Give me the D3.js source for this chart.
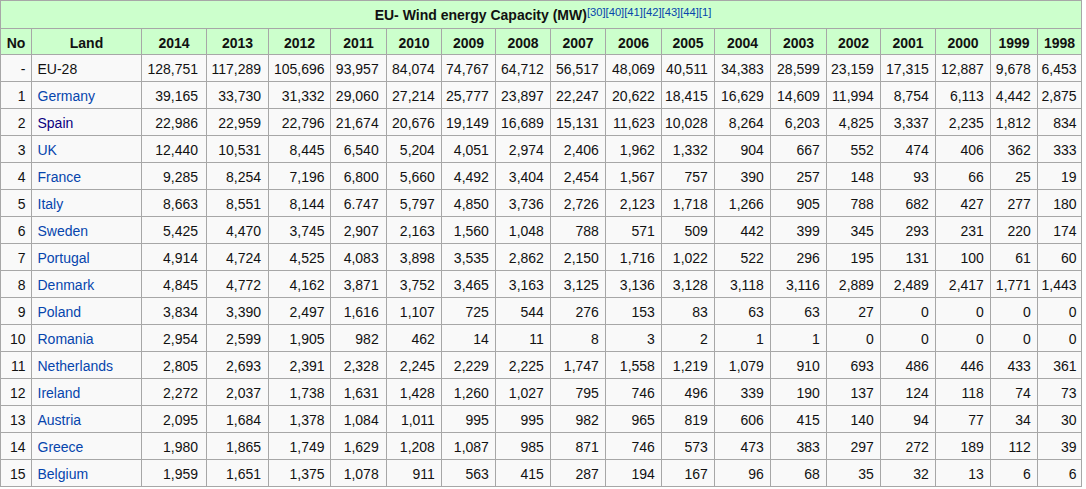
<!DOCTYPE html>
<html>
<head>
<meta charset="utf-8">
<script src="https://cdn.jsdelivr.net/npm/d3@7"></script>
<style>
  html, body { margin: 0; padding: 0; background: #ffffff; }
  svg { display: block; }
  text { font-family: "Liberation Sans", Arial, Helvetica, sans-serif; }
</style>
</head>
<body>
<svg id="chart" width="1086" height="489"></svg>
<script>
// ---------------- DATA ----------------
const title = "EU- Wind energy Capacity (MW)";
const references = "[30][40][41][42][43][44][1]";
const years = ["2014","2013","2012","2011","2010","2009","2008","2007","2006","2005","2004","2003","2002","2001","2000","1999","1998"];
const ranks = ["-","1","2","3","4","5","6","7","8","9","10","11","12","13","14","15"];
const lands = ["EU-28","Germany","Spain","UK","France","Italy","Sweden","Portugal","Denmark","Poland","Romania","Netherlands","Ireland","Austria","Greece","Belgium"];

const eu28        = [128751,117289,105696,93957,84074,74767,64712,56517,48069,40511,34383,28599,23159,17315,12887,9678,6453];
const germany     = [39165,33730,31332,29060,27214,25777,23897,22247,20622,18415,16629,14609,11994,8754,6113,4442,2875];
const spain       = [22986,22959,22796,21674,20676,19149,16689,15131,11623,10028,8264,6203,4825,3337,2235,1812,834];
const uk          = [12440,10531,8445,6540,5204,4051,2974,2406,1962,1332,904,667,552,474,406,362,333];
const france      = [9285,8254,7196,6800,5660,4492,3404,2454,1567,757,390,257,148,93,66,25,19];
const italy       = [8663,8551,8144,6747,5797,4850,3736,2726,2123,1718,1266,905,788,682,427,277,180];
const sweden      = [5425,4470,3745,2907,2163,1560,1048,788,571,509,442,399,345,293,231,220,174];
const portugal    = [4914,4724,4525,4083,3898,3535,2862,2150,1716,1022,522,296,195,131,100,61,60];
const denmark     = [4845,4772,4162,3871,3752,3465,3163,3125,3136,3128,3118,3116,2889,2489,2417,1771,1443];
const poland      = [3834,3390,2497,1616,1107,725,544,276,153,83,63,63,27,0,0,0,0];
const romania     = [2954,2599,1905,982,462,14,11,8,3,2,1,1,0,0,0,0,0];
const netherlands = [2805,2693,2391,2328,2245,2229,2225,1747,1558,1219,1079,910,693,486,446,433,361];
const ireland     = [2272,2037,1738,1631,1428,1260,1027,795,746,496,339,190,137,124,118,74,73];
const austria     = [2095,1684,1378,1084,1011,995,995,982,965,819,606,415,140,94,77,34,30];
const greece      = [1980,1865,1749,1629,1208,1087,985,871,746,573,473,383,297,272,189,112,39];
const belgium     = [1959,1651,1375,1078,911,563,415,287,194,167,96,68,35,32,13,6,6];

const seriesByLand = [eu28,germany,spain,uk,france,italy,sweden,portugal,denmark,poland,romania,netherlands,ireland,austria,greece,belgium];
// the source prints this one value with a point instead of a comma
const textOverrides = { "Italy|2011": "6.747" };

// ---------------- LAYOUT / STYLE ----------------
const colWidths = [31,110,65,62,62,56,55,54,55,55,56,53,56,56,54,55,55,47,44];
const colKeys = ["No","Land"].concat(years);
const rightPad = { "2014": 8.5, "2013": 7.5, "2012": 6, "2011": 7.8, "1998": 5 };
const defaultPad = 6.6;
const linkColor = { "EU-28": "#111111", "Spain": "#0b0080" };
const defaultLink = "#0645ad";
const borderColor = "#a7a7a7";
const headBg = "#ccffcc";
const bodyBg = "#f9f9f9";
const textColor = "#111111";

const tableLeft = 0.5, tableTop = 0.5;
const titleH = 28, headH = 26, rowH = 27;

const edges = [tableLeft];
colWidths.forEach(w => edges.push(edges[edges.length - 1] + w));
const tableRight = edges[edges.length - 1];

const xLeft = d3.scaleOrdinal().domain(colKeys).range(edges.slice(0, -1));
const colW = d3.scaleOrdinal().domain(colKeys).range(colWidths);
const bodyTop = tableTop + titleH + headH;
const y = d3.scaleBand().domain(lands).range([bodyTop, bodyTop + rowH * lands.length]).padding(0);

const svg = d3.select("#chart");
const fmt = d3.format(",");

// Title row
svg.append("rect")
  .attr("x", tableLeft).attr("y", tableTop)
  .attr("width", tableRight - tableLeft).attr("height", titleH)
  .attr("fill", headBg).attr("stroke", borderColor).attr("stroke-width", 1);

const titleText = svg.append("text")
  .attr("y", tableTop + 19.5)
  .attr("font-size", 14).attr("font-weight", "bold").attr("fill", textColor);
titleText.append("tspan").text(title);
titleText.append("tspan")
  .attr("font-size", 11.2).attr("font-weight", "normal").attr("fill", defaultLink)
  .attr("dy", -4.5).text(references);
const tb = titleText.node().getBBox();
titleText.attr("x", (tableLeft + tableRight) / 2 - tb.width / 2 + 2);

// Header row
const headY = tableTop + titleH;
const head = svg.append("g");
head.selectAll("rect").data(colKeys).join("rect")
  .attr("x", d => xLeft(d)).attr("y", headY)
  .attr("width", d => colW(d)).attr("height", headH)
  .attr("fill", headBg).attr("stroke", borderColor).attr("stroke-width", 1);
head.selectAll("text").data(colKeys).join("text")
  .attr("x", d => xLeft(d) + colW(d) / 2)
  .attr("y", headY + 19)
  .attr("text-anchor", "middle")
  .attr("font-size", 14).attr("font-weight", "bold").attr("fill", textColor)
  .text(d => d);

// Body rows
const rows = lands.map((land, i) => ({ land, rank: ranks[i], values: seriesByLand[i] }));
const rowG = svg.append("g").selectAll("g").data(rows).join("g")
  .attr("transform", d => `translate(0,${y(d.land)})`);

rowG.selectAll("rect").data(colKeys).join("rect")
  .attr("x", d => xLeft(d)).attr("y", 0)
  .attr("width", d => colW(d)).attr("height", y.bandwidth())
  .attr("fill", bodyBg).attr("stroke", borderColor).attr("stroke-width", 1);

rowG.append("text")
  .attr("x", xLeft("No") + colW("No") - 6)
  .attr("y", 19.6)
  .attr("text-anchor", "end")
  .attr("font-size", 14).attr("fill", textColor)
  .text(d => d.rank);

rowG.append("text")
  .attr("x", xLeft("Land") + 6)
  .attr("y", 19.6)
  .attr("font-size", 14)
  .attr("fill", d => linkColor[d.land] || defaultLink)
  .text(d => d.land);

rowG.selectAll("text.val")
  .data(d => years.map((yr, j) => ({ land: d.land, year: yr, value: d.values[j] })))
  .join("text")
  .attr("class", "val")
  .attr("x", d => xLeft(d.year) + colW(d.year) - (rightPad[d.year] !== undefined ? rightPad[d.year] : defaultPad))
  .attr("y", 19.6)
  .attr("text-anchor", "end")
  .attr("font-size", 14).attr("fill", textColor)
  .text(d => textOverrides[d.land + "|" + d.year] || fmt(d.value));
</script>
</body>
</html>
